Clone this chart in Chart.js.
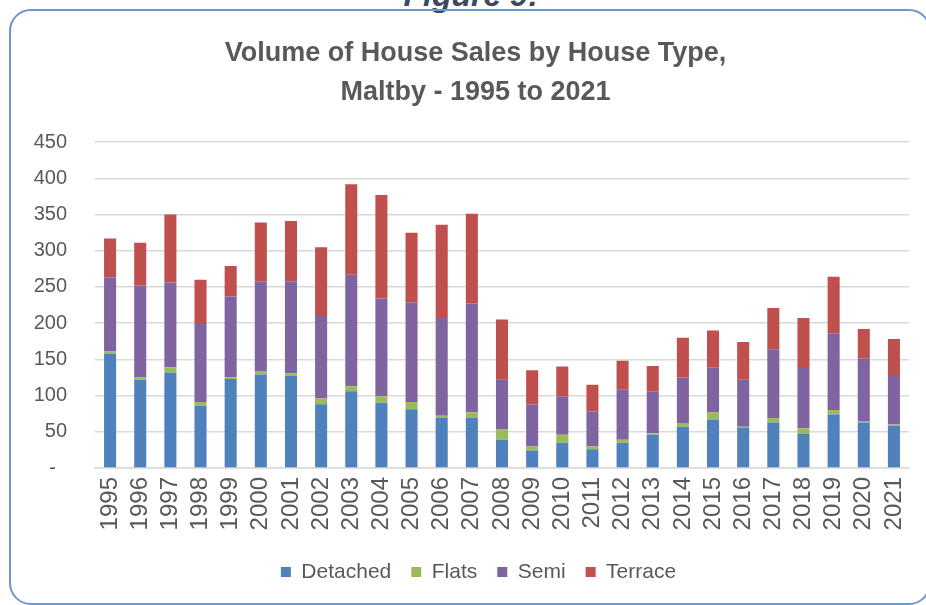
<!DOCTYPE html>
<html>
<head>
<meta charset="utf-8">
<script src="https://cdn.jsdelivr.net/npm/chart.js@4.4.1/dist/chart.umd.min.js"></script>
<style>
  html, body { margin: 0; padding: 0; background: #fff; overflow: hidden; }
  #wrap { position: relative; width: 926px; height: 605px; }
  #frame {
    position: absolute; left: 9px; top: 9px; width: 918px; height: 592px;
    border: 2px solid #6B96CF; border-radius: 22px;
  }
  #fig {
    position: absolute; left: 0; width: 942px; top: -23px; text-align: center;
    font: italic bold 32px "Liberation Sans", Arial, sans-serif; color: #3B4A63;
  }
  #c { position: absolute; left: 0; top: 0; }
</style>
</head>
<body>
<div id="wrap">
  <div id="fig">Figure 9:</div>
  <div id="frame"></div>
  <canvas id="c" width="926" height="605"></canvas>
</div>
<script>
// values
const years = ["1995", "1996", "1997", "1998", "1999", "2000", "2001", "2002", "2003",
  "2004", "2005", "2006", "2007", "2008", "2009", "2010", "2011", "2012", "2013",
  "2014", "2015", "2016", "2017", "2018", "2019", "2020", "2021"];
const detached = [158, 122, 132, 86, 123, 129, 127, 88, 106, 90, 81, 69, 69, 39, 24, 35, 26, 35, 46, 57, 67, 56, 63, 47, 74, 63, 58];
const flats    = [3, 3, 7, 5, 2, 5, 4, 8, 7, 9, 10, 3, 8, 14, 6, 11, 4, 4, 2, 5, 10, 1, 6, 8, 6, 2, 2];
const semi     = [102, 127, 117, 108, 112, 124, 127, 114, 154, 135, 138, 135, 150, 69, 58, 53, 48, 69, 58, 63, 62, 65, 95, 83, 106, 86, 67];
const terrace  = [54, 59, 94, 61, 42, 81, 83, 95, 125, 143, 96, 129, 124, 83, 47, 41, 37, 40, 35, 55, 51, 52, 57, 69, 78, 41, 51];

const txt = "#595959";
const grid = "#D9D9D9";
const font = "'Liberation Sans', Arial, sans-serif";

// the original centres title and legend a bit right of the canvas middle
const shiftBlocks = {
  id: "shiftBlocks",
  afterLayout(chart) {
    if (chart.titleBlock) { chart.titleBlock.left += 11; chart.titleBlock.right += 11; }
    if (chart.legend) { chart.legend.left += 14; chart.legend.right += 14; }
  }
};

new Chart(document.getElementById("c"), {
  type: "bar",
  data: {
    labels: years,
    datasets: [
      { label: "Detached", data: detached, backgroundColor: "#4F81BD" },
      { label: "Flats", data: flats, backgroundColor: "#9BBB59" },
      { label: "Semi", data: semi, backgroundColor: "#8064A2" },
      { label: "Terrace", data: terrace, backgroundColor: "#C0504D" }
    ]
  },
  plugins: [shiftBlocks],
  options: {
    responsive: false,
    animation: false,
    datasets: {
      bar: { barPercentage: 0.5, categoryPercentage: 0.8 }
    },
    layout: { padding: { left: 20, right: 17, top: 0, bottom: 12.5 } },
    plugins: {
      title: {
        display: true,
        text: ["Volume of House Sales by House Type,", "Maltby - 1995 to 2021"],
        color: txt,
        font: { family: font, size: 27, weight: "bold", lineHeight: 1.41 },
        padding: { top: 35, bottom: 31 }
      },
      legend: {
        position: "bottom",
        labels: {
          color: txt,
          font: { family: font, size: 21 },
          boxWidth: 10,
          boxHeight: 10,
          padding: 20
        }
      },
      tooltip: { enabled: false }
    },
    scales: {
      x: {
        stacked: true,
        grid: { display: false, drawTicks: false },
        border: { color: grid, width: 1.5 },
        ticks: {
          color: txt,
          font: { family: font, size: 24 },
          minRotation: 90,
          maxRotation: 90,
          padding: 9,
          autoSkip: false
        },
        afterFit: (scale) => {
          scale.height = 73.5;
          scale.paddingLeft = 0;
          scale.paddingRight = 0;
        }
      },
      y: {
        stacked: true,
        min: 0,
        max: 450,
        grid: { color: grid, lineWidth: 1.5, drawTicks: false },
        border: { display: false },
        ticks: {
          stepSize: 50,
          color: txt,
          font: { family: font, size: 20 },
          padding: 28,
          callback: (v) => (v === 0 ? "-  " : v)
        },
        afterFit: (scale) => { scale.width = 75; }
      }
    }
  }
});
</script>
</body>
</html>
